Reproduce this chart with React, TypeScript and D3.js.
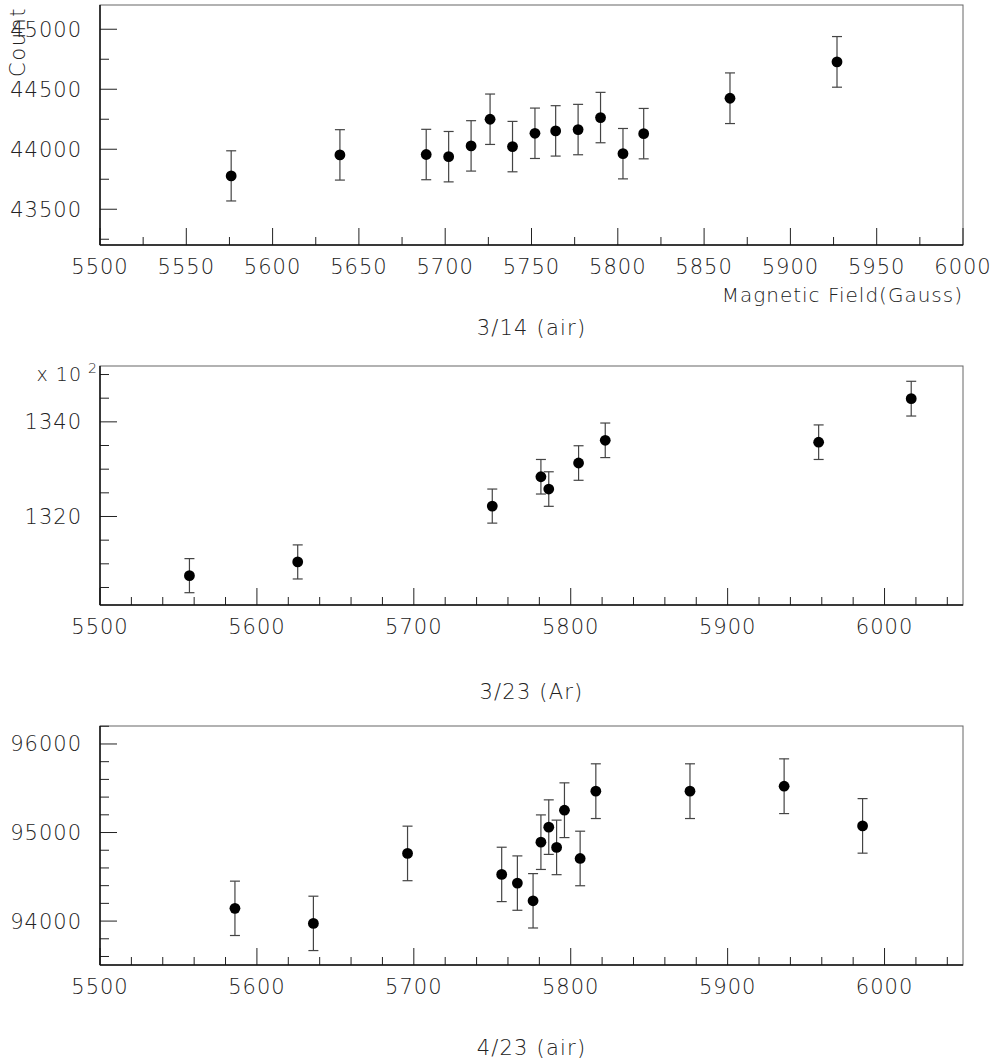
import React from 'react';
import * as d3 from 'd3';

// 3/14 (air)
const airMarchField = [5576, 5639, 5689, 5702, 5715, 5726, 5739, 5752, 5764, 5777, 5790, 5803, 5815, 5865, 5927];
const airMarchCount = [43778, 43953, 43956, 43938, 44028, 44250, 44022, 44133, 44153, 44164, 44264, 43963, 44130, 44425, 44728];
const airMarchErr = [209, 210, 210, 210, 210, 210, 210, 210, 210, 210, 210, 210, 210, 211, 211];

// 3/23 (Ar), counts in units of 10^2
const argonField = [5557, 5626, 5750, 5781, 5786, 5805, 5822, 5958, 6017];
const argonCount = [1307.5, 1310.4, 1322.2, 1328.4, 1325.8, 1331.3, 1336.1, 1335.7, 1344.9];
const argonErr = [3.6, 3.6, 3.6, 3.65, 3.65, 3.65, 3.65, 3.65, 3.67];

// 4/23 (air)
const airAprilField = [5586, 5636, 5696, 5756, 5766, 5776, 5781, 5786, 5791, 5796, 5806, 5816, 5876, 5936, 5986];
const airAprilCount = [94144, 93974, 94764, 94527, 94429, 94229, 94891, 95061, 94832, 95252, 94707, 95467, 95467, 95523, 95075];
const airAprilErr = [307, 307, 308, 307, 307, 307, 308, 308, 308, 309, 308, 309, 309, 309, 308];

const FONT = "'DejaVu Sans', sans-serif";
const TXT = '#222';

const panels = [
  {
    title: '3/14 (air)', titleY: 335,
    top: 5, bottom: 245,
    xDomain: [5500, 6000], xMajor: 50, xMinor: 25,
    yDomain: [43202, 45202], yMajor: 500, yMinor: 250,
    x: airMarchField, y: airMarchCount, err: airMarchErr,
    xTitle: 'Magnetic Field(Gauss)', yTitle: 'Count', scaleNote: false,
  },
  {
    title: '3/23 (Ar)', titleY: 699,
    top: 366, bottom: 605,
    xDomain: [5500, 6050], xMajor: 100, xMinor: 20,
    yDomain: [1301.3, 1351.8], yMajor: 20, yMinor: 5,
    x: argonField, y: argonCount, err: argonErr,
    xTitle: '', yTitle: '', scaleNote: true,
  },
  {
    title: '4/23 (air)', titleY: 1055,
    top: 726, bottom: 965,
    xDomain: [5500, 6050], xMajor: 100, xMinor: 20,
    yDomain: [93504, 96203], yMajor: 1000, yMinor: 200,
    x: airAprilField, y: airAprilCount, err: airAprilErr,
    xTitle: '', yTitle: '', scaleNote: false,
  },
];

const LEFT = 100;
const RIGHT = 963;

function ticks(domain: number[], step: number) {
  const start = Math.ceil(domain[0] / step - 1e-9) * step;
  return d3.range(start, domain[1] + 1e-9, step);
}

function Panel({ p }: { p: any }) {
  const x = d3.scaleLinear().domain(p.xDomain).range([LEFT, RIGHT]);
  const y = d3.scaleLinear().domain(p.yDomain).range([p.bottom, p.top]);
  const xMinor = ticks(p.xDomain, p.xMinor);
  const xMajor = ticks(p.xDomain, p.xMajor);
  const yMinor = ticks(p.yDomain, p.yMinor);
  const yMajor = ticks(p.yDomain, p.yMajor);
  const isMajor = (v: number, step: number) => Math.abs(v / step - Math.round(v / step)) < 1e-6;

  return (
    <g>
      <rect x={LEFT} y={p.top} width={RIGHT - LEFT} height={p.bottom - p.top} fill="none" stroke="#666" strokeWidth={1} />
      {xMinor.map((v: number) => (
        <line key={'xt' + v} x1={x(v)} x2={x(v)} y1={p.bottom} y2={p.bottom - (isMajor(v, p.xMajor) ? 17 : 8)} stroke="#222" strokeWidth={1} />
      ))}
      {yMinor.map((v: number) => (
        <line key={'yt' + v} x1={LEFT} x2={LEFT + (isMajor(v, p.yMajor) ? 17 : 9)} y1={y(v)} y2={y(v)} stroke="#222" strokeWidth={1} />
      ))}
      <line x1={LEFT} x2={LEFT} y1={p.top} y2={p.bottom} stroke="#111" strokeWidth={1.5} />
      <line x1={LEFT} x2={RIGHT} y1={p.bottom} y2={p.bottom} stroke="#111" strokeWidth={1.5} />
      {xMajor.map((v: number) => (
        <text key={'xl' + v} x={x(v)} y={p.bottom + 29} textAnchor="middle" fontSize={21} fontFamily={FONT} fontWeight={200} letterSpacing={1} fill={TXT}>{v}</text>
      ))}
      {yMajor.map((v: number) => (
        <text key={'yl' + v} x={82} y={y(v) + 7.5} textAnchor="end" fontSize={21} fontFamily={FONT} fontWeight={200} letterSpacing={1} fill={TXT}>{v}</text>
      ))}
      {p.x.map((xv: number, i: number) => {
        const cx = x(xv);
        const y1 = y(p.y[i] + p.err[i]);
        const y2 = y(p.y[i] - p.err[i]);
        return (
          <g key={'pt' + i}>
            <line x1={cx} x2={cx} y1={y1} y2={y2} stroke="#444" strokeWidth={1.2} />
            <line x1={cx - 5} x2={cx + 5} y1={y1} y2={y1} stroke="#444" strokeWidth={1.2} />
            <line x1={cx - 5} x2={cx + 5} y1={y2} y2={y2} stroke="#444" strokeWidth={1.2} />
            <circle cx={cx} cy={y(p.y[i])} r={5.4} fill="#000" />
          </g>
        );
      })}
      {p.xTitle && (
        <text x={RIGHT} y={p.bottom + 57} textAnchor="end" fontSize={20} fontFamily={FONT} fontWeight={200} letterSpacing={1} fill={TXT}>{p.xTitle}</text>
      )}
      {p.yTitle && (
        <text transform={`translate(25, 7) rotate(-90)`} textAnchor="end" fontSize={21} fontFamily={FONT} fontWeight={200} letterSpacing={1.5} fill={TXT}>{p.yTitle}</text>
      )}
      {p.scaleNote && (
        <g>
          <text x={82} y={p.top + 15} textAnchor="end" fontSize={19} fontFamily={FONT} fontWeight={200} letterSpacing={1} fill={TXT}>x 10</text>
          <text x={88} y={p.top + 7} fontSize={14} fontFamily={FONT} fontWeight={200} fill={TXT}>2</text>
        </g>
      )}
      <text x={(LEFT + RIGHT) / 2} y={p.titleY} textAnchor="middle" fontSize={21} fontFamily={FONT} fontWeight={200} letterSpacing={1.2} fill={TXT}>{p.title}</text>
    </g>
  );
}

export default function App() {
  return (
    <svg width={995} height={1061} viewBox="0 0 995 1061" style={{ position: 'absolute', left: 0, top: 0, background: '#fff' }}>
      <rect x={0} y={0} width={995} height={1061} fill="#fff" />
      {panels.map((p, i) => <Panel key={i} p={p} />)}
    </svg>
  );
}
